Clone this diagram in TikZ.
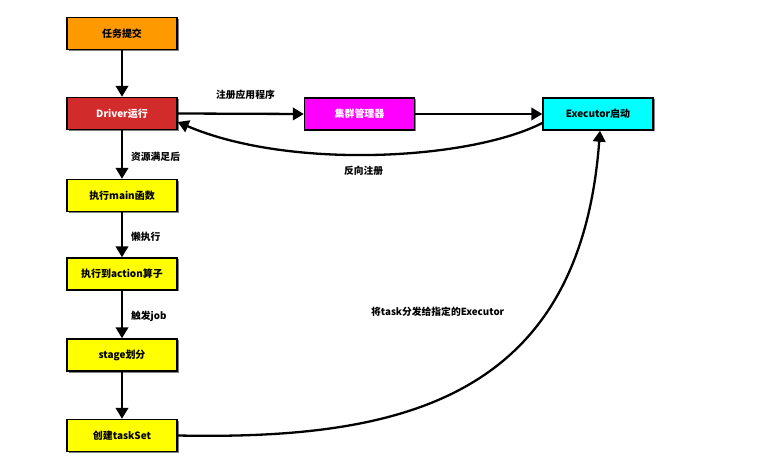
\documentclass[tikz,border=0pt]{standalone}
\usepackage{fontspec}
\setmainfont{Noto Sans CJK SC}
\usetikzlibrary{arrows.meta,shadows}
\definecolor{cOrange}{HTML}{FF9900}
\definecolor{cRed}{HTML}{D22B2B}
\definecolor{cMag}{HTML}{FF00FF}
\definecolor{cCyan}{HTML}{00FFFF}
\definecolor{cYel}{HTML}{FFFF00}
\tikzset{
  box/.style={draw=black,line width=1.4bp,minimum width=110bp,minimum height=32bp,inner sep=0pt,
    font=\fontsize{10}{11}\selectfont\bfseries,
    drop shadow={shadow xshift=1.5bp,shadow yshift=-1.5bp,opacity=0.7,fill=black!70}},
  conn/.style={line width=2.3bp,-{Triangle[width=12.5bp,length=11bp]}},
  lbl/.style={font=\fontsize{9.8}{11}\selectfont\bfseries,inner sep=1bp}
}
\begin{document}
\begin{tikzpicture}[x=1bp,y=-1bp]
\useasboundingbox (0,0) rectangle (782,461);
\node[box,fill=cOrange] (task) at (122,33.5) {任务提交};
\node[box,fill=cRed,text=white] (drv) at (122,113.5) {Driver运行};
\node[box,fill=cMag,text=white] (clu) at (359.5,114) {集群管理器};
\node[box,fill=cCyan] (exe) at (598,114) {Executor启动};
\node[box,fill=cYel] (main) at (122,195.5) {执行main函数};
\node[box,fill=cYel] (act) at (122,274) {执行到action算子};
\node[box,fill=cYel] (stg) at (122,355) {stage划分};
\node[box,fill=cYel] (ts) at (122,435.5) {创建taskSet};

\draw[conn] (task) -- (drv);
\draw[conn] (drv) -- (main);
\draw[conn] (main) -- (act);
\draw[conn] (act) -- (stg);
\draw[conn] (stg) -- (ts);
\draw[conn] (drv.east) -- (clu.west);
\draw[conn] (clu.east) -- (exe.west);
\draw[conn] (exe.west |- 0,123) .. controls (470,160) and (290,170) .. (drv.east |- 0,122);
\draw[conn] (ts.east) .. controls (400,440) and (580,400) .. (exe.south -| 600,0);

\node[lbl,anchor=west] (l1) at (215,95) {注册应用程序};
\node[lbl,anchor=west] (l2) at (130,157) {资源满足后};
\node[lbl,anchor=west] (l3) at (343,171) {反向注册};
\node[lbl,anchor=west] (l4) at (130,237) {懒执行};
\node[lbl,anchor=west] (l5) at (130,316) {触发job};
\node[lbl,anchor=west] (l6) at (370,312) {将task分发给指定的Executor};
\end{tikzpicture}
\end{document}
